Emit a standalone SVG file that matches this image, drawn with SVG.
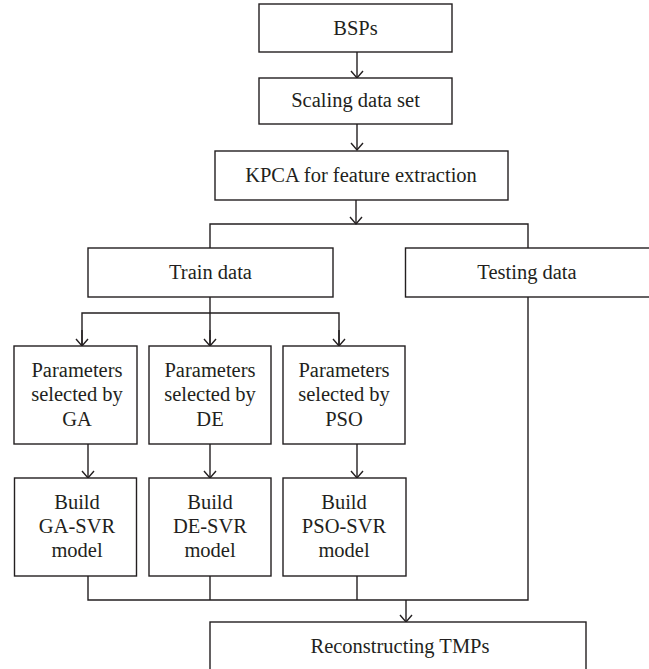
<svg xmlns="http://www.w3.org/2000/svg" width="649" height="669" viewBox="0 0 649 669">
<style>
.box{fill:#fff;stroke:#231f20;stroke-width:1.4}
.t{font-family:"Liberation Serif","Times New Roman",serif;font-size:20.5px;fill:#231f20;text-anchor:middle}
.c{fill:none;stroke:#231f20;stroke-width:1.4}
</style>
<defs>
<marker id="ah" markerUnits="userSpaceOnUse" markerWidth="16" markerHeight="16" viewBox="-8 -8 16 16" refX="0" refY="0" orient="auto">
<path d="M-7,-6 L0,0 L-7,6" fill="none" stroke="#231f20" stroke-width="1.4"/>
</marker>
</defs>
<rect width="649" height="669" fill="#fff"/>
<g id="connectors">
<line class="c" x1="357" y1="52" x2="357" y2="78" marker-end="url(#ah)"/>
<line class="c" x1="357" y1="124" x2="357" y2="150" marker-end="url(#ah)"/>
<line class="c" x1="356" y1="200" x2="356" y2="224" marker-end="url(#ah)"/>
<polyline class="c" points="210,248 210,224 528,224 528,248"/>
<polyline class="c" points="82,345 82,313 339,313 339,345"/>
<line class="c" x1="210" y1="297" x2="210" y2="346"/>
<line class="c" x1="82" y1="330" x2="82" y2="346" marker-end="url(#ah)"/>
<line class="c" x1="210" y1="330" x2="210" y2="346" marker-end="url(#ah)"/>
<line class="c" x1="339" y1="330" x2="339" y2="346" marker-end="url(#ah)"/>
<line class="c" x1="88" y1="444" x2="88" y2="478" marker-end="url(#ah)"/>
<line class="c" x1="210" y1="444" x2="210" y2="478" marker-end="url(#ah)"/>
<line class="c" x1="357" y1="444" x2="357" y2="478" marker-end="url(#ah)"/>
<polyline class="c" points="88,576 88,600 528,600 528,297"/>
<line class="c" x1="210" y1="576" x2="210" y2="600"/>
<line class="c" x1="357" y1="576" x2="357" y2="600"/>
<line class="c" x1="406" y1="600" x2="406" y2="622" marker-end="url(#ah)"/>
</g>
<g id="bsps"><rect class="box" x="259" y="4" width="193" height="48"/><text class="t" x="355.5" y="35">BSPs</text></g>
<g id="scaling"><rect class="box" x="259" y="78" width="193" height="46"/><text class="t" x="355.5" y="107">Scaling data set</text></g>
<g id="kpca"><rect class="box" x="215" y="151" width="293" height="49"/><text class="t" x="361" y="182">KPCA for feature extraction</text></g>
<g id="train"><rect class="box" x="88" y="248" width="245" height="49"/><text class="t" x="210.5" y="279">Train data</text></g>
<g id="testing"><rect class="box" x="405.5" y="248" width="250" height="49"/><text class="t" x="527" y="279">Testing data</text></g>
<g id="param-ga"><rect class="box" x="14" y="346" width="123" height="98"/><text class="t" x="77" y="377">Parameters</text><text class="t" x="77" y="401">selected by</text><text class="t" x="77" y="426">GA</text></g>
<g id="param-de"><rect class="box" x="149" y="346" width="122" height="98"/><text class="t" x="210" y="377">Parameters</text><text class="t" x="210" y="401">selected by</text><text class="t" x="210" y="426">DE</text></g>
<g id="param-pso"><rect class="box" x="283" y="346" width="122" height="98"/><text class="t" x="344" y="377">Parameters</text><text class="t" x="344" y="401">selected by</text><text class="t" x="344" y="426">PSO</text></g>
<g id="build-ga"><rect class="box" x="14.5" y="478" width="122" height="98"/><text class="t" x="77" y="509">Build</text><text class="t" x="77" y="533">GA-SVR</text><text class="t" x="77" y="557">model</text></g>
<g id="build-de"><rect class="box" x="149" y="478" width="122" height="98"/><text class="t" x="210" y="509">Build</text><text class="t" x="210" y="533">DE-SVR</text><text class="t" x="210" y="557">model</text></g>
<g id="build-pso"><rect class="box" x="283" y="478" width="123" height="98"/><text class="t" x="344" y="509">Build</text><text class="t" x="344" y="533">PSO-SVR</text><text class="t" x="344" y="557">model</text></g>
<g id="reconstructing"><rect class="box" x="210" y="622" width="376" height="50"/><text class="t" x="400" y="653">Reconstructing TMPs</text></g>
</svg>
